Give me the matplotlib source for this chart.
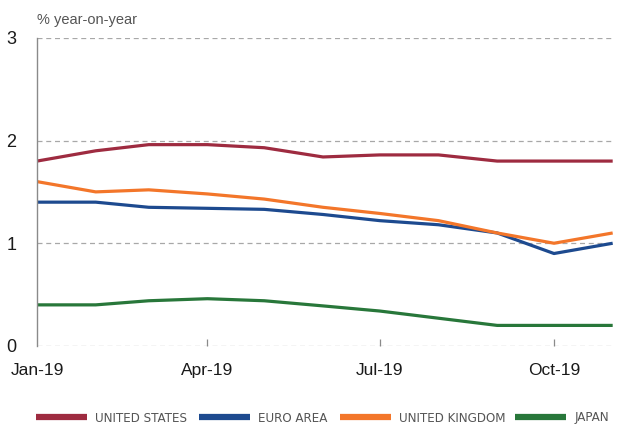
import matplotlib
matplotlib.use("Agg")
import matplotlib.pyplot as plt
from matplotlib import font_manager
from matplotlib.lines import Line2D
import numpy as np

plt.rcParams['font.family'] = ['Liberation Sans', 'DejaVu Sans']

months = ['2019-01', '2019-02', '2019-03', '2019-04', '2019-05', '2019-06',
          '2019-07', '2019-08', '2019-09', '2019-10', '2019-11']
united_states = [1.80, 1.90, 1.96, 1.96, 1.93, 1.84, 1.86, 1.86, 1.80, 1.80, 1.80]
euro_area = [1.40, 1.40, 1.35, 1.34, 1.33, 1.28, 1.22, 1.18, 1.10, 0.90, 1.00]
united_kingdom = [1.60, 1.50, 1.52, 1.48, 1.43, 1.35, 1.29, 1.22, 1.10, 1.00, 1.10]
japan = [0.40, 0.40, 0.44, 0.46, 0.44, 0.39, 0.34, 0.27, 0.20, 0.20, 0.20]

tick_dates = ['2019-01', '2019-04', '2019-07', '2019-10']
tick_labels = ['Jan-19', 'Apr-19', 'Jul-19', 'Oct-19']

series = [
    ('UNITED STATES', united_states, '#9e2b40'),
    ('EURO AREA', euro_area, '#1d4a8f'),
    ('UNITED KINGDOM', united_kingdom, '#f3762a'),
    ('JAPAN', japan, '#28773a'),
]

x = np.array(months, dtype='datetime64[D]')

fig = plt.figure(figsize=(6.19, 4.25), dpi=100)
ax = fig.add_axes([0.0598, 0.186, 0.930, 0.725])

for name, vals, col in series:
    ax.plot(x, vals, color=col, lw=2.3, label=name, solid_capstyle='butt')

ax.set_xlim(x[0], x[-1])
ax.set_ylim(0, 3)
ax.set_yticks([0, 1, 2, 3])
ax.set_yticklabels(['0', '1', '2', '3'])

# dashed gridlines, including the zero line
for yv in [0, 1, 2, 3]:
    ax.axhline(yv, color='#a8a8a8', lw=0.9, ls=(0, (4, 3)), zorder=0)

for s in ['top', 'right', 'bottom']:
    ax.spines[s].set_visible(False)
ax.spines['left'].set_color('#8a8a8a')
ax.spines['left'].set_linewidth(1.0)

ax.set_xticks(np.array(tick_dates, dtype='datetime64[D]'))
ax.set_xticklabels(tick_labels)
ax.tick_params(axis='x', direction='in', length=5, color='#8a8a8a', width=0.9,
               pad=12, labelsize=12.5, labelcolor='#1a1a1a')
ax.tick_params(axis='y', length=0, pad=15, labelsize=13, labelcolor='#1a1a1a')
# hide the Jan tick mark only
ax.xaxis.get_major_ticks()[0].tick1line.set_visible(False)

fig.text(0.0598, 0.952, '% year-on-year', fontsize=10.5, color='#555555',
         ha='left', va='center')

# condensed face if one is available
leg_font = {'family': ['Liberation Sans'], 'size': 9}
try:
    f = font_manager.findfont(font_manager.FontProperties(family='DejaVu Sans', stretch='condensed'),
                              fallback_to_default=False)
    if 'Condensed' in f:
        leg_font = {'family': ['DejaVu Sans'], 'stretch': 'condensed', 'size': 9.5}
except Exception:
    pass

# one legend entry per series, placed along the bottom
leg_x = [36, 199, 340, 515]
for (name, vals, col), px in zip(series, leg_x):
    h = Line2D([], [], color=col, lw=4.5, solid_capstyle='butt')
    leg = fig.legend([h], [name], loc='center left',
                     bbox_to_anchor=(px / 619, 7 / 425), frameon=False,
                     handlelength=3.9, handletextpad=0.6, borderaxespad=0,
                     borderpad=0, prop=leg_font)
    for t in leg.get_texts():
        t.set_color('#555555')

fig.savefig('out.png', dpi=100)
